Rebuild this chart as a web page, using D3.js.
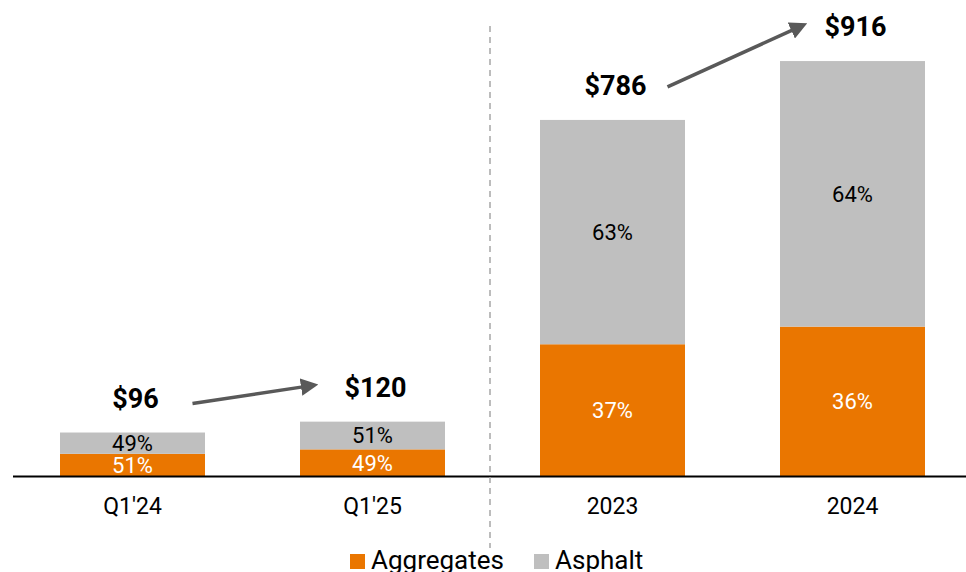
<!DOCTYPE html>
<html>
<head>
<meta charset="utf-8">
<script src="https://cdn.jsdelivr.net/npm/d3@7"></script>
<style>
  body { margin: 0; background: #fff; }
  svg { display: block; font-family: Roboto, "Liberation Sans", sans-serif; }
</style>
</head>
<body>
<div id="chart"></div>
<script>
var categories = ["Q1'24", "Q1'25", "2023", "2024"];
var totals = [96, 120, 786, 916];
var aggregatesPct = [51, 49, 37, 36];
var asphaltPct = [49, 51, 63, 64];
var totalLabels = ["$96", "$120", "$786", "$916"];
var keys = ["Aggregates", "Asphalt"];

var width = 966, height = 572;
var baseY = 476;

var svg = d3.select("#chart").append("svg")
    .attr("width", width)
    .attr("height", height);

var x = d3.scaleBand()
    .domain(categories)
    .range([12.5, 972.5])
    .paddingInner(95 / 240)
    .paddingOuter(47.5 / 240);

var y = d3.scaleLinear()
    .domain([0, 1000])
    .range([baseY, 23]);

var z = d3.scaleOrdinal()
    .domain(keys)
    .range(["#EA7600", "#BFBFBF"]);

var data = categories.map(function(c, i) {
  return {
    cat: c,
    Aggregates: totals[i] * aggregatesPct[i] / 100,
    Asphalt: totals[i] * asphaltPct[i] / 100,
    pct: { Aggregates: aggregatesPct[i], Asphalt: asphaltPct[i] },
    total: totals[i],
    label: totalLabels[i]
  };
});

var series = d3.stack().keys(keys)(data);

var layers = svg.append("g")
  .selectAll("g")
  .data(series)
  .enter().append("g")
    .attr("fill", function(d) { return z(d.key); });

layers.selectAll("rect")
  .data(function(d) { return d; })
  .enter().append("rect")
    .attr("x", function(d) { return x(d.data.cat); })
    .attr("y", function(d) { return y(d[1]); })
    .attr("width", x.bandwidth())
    .attr("height", function(d) { return y(d[0]) - y(d[1]); });

// percent labels inside segments
layers.selectAll("text")
  .data(function(d) { return d.map(function(p) { p.key = d.key; return p; }); })
  .enter().append("text")
    .attr("x", function(d) { return x(d.data.cat) + x.bandwidth() / 2; })
    .attr("y", function(d) { return (y(d[0]) + y(d[1])) / 2; })
    .attr("dy", "0.36em")
    .attr("text-anchor", "middle")
    .attr("font-size", 22)
    .attr("fill", function(d) { return d.key == "Aggregates" ? "#fff" : "#000"; })
    .text(function(d) { return d.data.pct[d.key] + "%"; });

// total labels
svg.append("g")
  .selectAll("text")
  .data(data)
  .enter().append("text")
    .attr("x", function(d) { return x(d.cat) + x.bandwidth() / 2 + 3; })
    .attr("y", function(d) { return y(d.total) - 25; })
    .attr("text-anchor", "middle")
    .attr("font-size", 27)
    .attr("font-weight", "bold")
    .attr("fill", "#000")
    .text(function(d) { return d.label; });

// x axis
var axis = svg.append("g")
    .attr("transform", "translate(0," + baseY + ")")
    .call(d3.axisBottom(x).tickSize(0));
axis.select(".domain").remove();
axis.selectAll("text")
    .attr("y", 38)
    .attr("dy", 0)
    .attr("font-size", 23)
    .attr("font-family", "Roboto, sans-serif")
    .attr("fill", "#000");

svg.append("line")
    .attr("x1", 13).attr("x2", width)
    .attr("y1", baseY + 0.5).attr("y2", baseY + 0.5)
    .attr("stroke", "#000")
    .attr("stroke-width", 2);

// divider between quarterly and annual
var divX = (x("Q1'25") + x.bandwidth() + x("2023")) / 2 - 2.5;
svg.append("line")
    .attr("x1", divX).attr("x2", divX)
    .attr("y1", 26).attr("y2", 548)
    .attr("stroke", "#A6A6A6")
    .attr("stroke-width", 1.5)
    .attr("stroke-dasharray", "6,5");

// growth arrows
var defs = svg.append("defs");
defs.append("marker")
    .attr("id", "arrowhead")
    .attr("viewBox", "0 0 10 10")
    .attr("refX", 2).attr("refY", 5)
    .attr("markerWidth", 5).attr("markerHeight", 5)
    .attr("markerUnits", "strokeWidth")
    .attr("orient", "auto")
  .append("path")
    .attr("d", "M0,0 L10,5 L0,10 Z")
    .attr("fill", "#595959");

var arrows = [
  { from: 0, to: 1, dx0: 60, dy0: -29, dx1: -68, dy1: -35 },
  { from: 2, to: 3, dx0: 55, dy0: -33, dx1: -58, dy1: -32 }
];
svg.append("g")
  .selectAll("line")
  .data(arrows)
  .enter().append("line")
    .attr("x1", function(d) { return x(categories[d.from]) + x.bandwidth() / 2 + d.dx0; })
    .attr("y1", function(d) { return y(totals[d.from]) + d.dy0; })
    .attr("x2", function(d) { return x(categories[d.to]) + x.bandwidth() / 2 + d.dx1; })
    .attr("y2", function(d) { return y(totals[d.to]) + d.dy1; })
    .attr("stroke", "#595959")
    .attr("stroke-width", 3.5)
    .attr("marker-end", "url(#arrowhead)");

// legend
var legend = svg.append("g")
  .selectAll("g")
  .data(keys)
  .enter().append("g")
    .attr("transform", function(d, i) { return "translate(" + [350, 534][i] + ",554)"; });

legend.append("rect")
    .attr("width", 15)
    .attr("height", 15)
    .attr("fill", z);

legend.append("text")
    .attr("x", 21)
    .attr("y", 15)
    .attr("font-size", 26)
    .attr("fill", "#000")
    .text(function(d) { return d; });
</script>
</body>
</html>
